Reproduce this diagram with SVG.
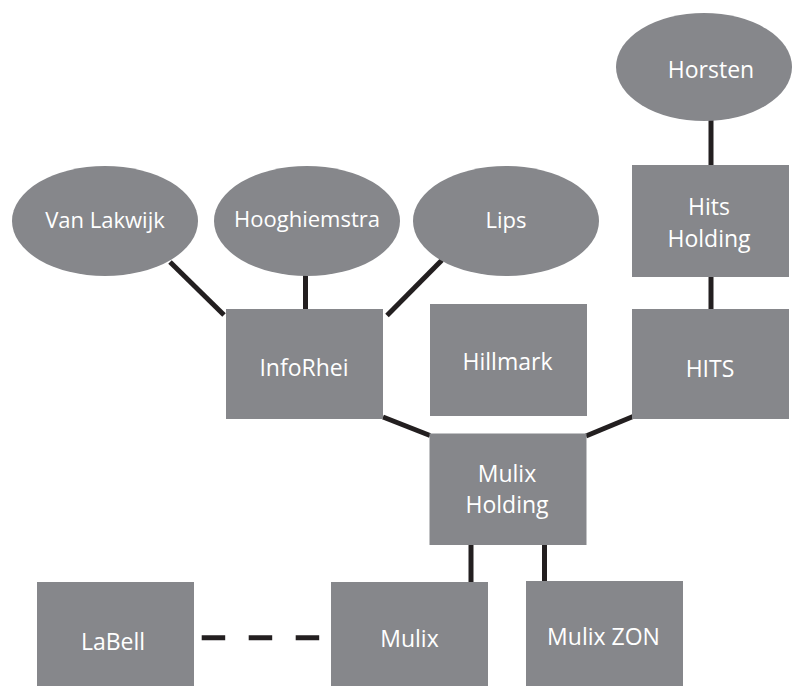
<svg xmlns="http://www.w3.org/2000/svg" width="792" height="686" viewBox="0 0 792 686">
<style>
.n{fill:#86878b}
.t{fill:#ffffff;font-family:"Open Sans","Noto Sans",sans-serif;font-size:23px;text-anchor:middle}
.te{font-size:22px}
.c{stroke:#231f20;stroke-width:5;fill:none}
.d{stroke-dasharray:23.5 23.5}
</style>
<rect width="792" height="686" fill="#ffffff"/>
<g id="connectors">
<line class="c" x1="170" y1="262" x2="224" y2="315"/>
<line class="c" x1="305.5" y1="274" x2="305.5" y2="310"/>
<line class="c" x1="442" y1="260" x2="387" y2="315.5"/>
<line class="c" x1="711" y1="119" x2="711" y2="166"/>
<line class="c" x1="711" y1="276" x2="711" y2="310"/>
<line class="c" x1="383" y1="417" x2="430" y2="435.5"/>
<line class="c" x1="633" y1="416.5" x2="586" y2="436"/>
<line class="c" x1="471" y1="544" x2="471" y2="583"/>
<line class="c" x1="544.5" y1="544" x2="544.5" y2="582"/>
<line class="c d" x1="201.7" y1="637.7" x2="320" y2="637.7"/>
</g>
<g id="horsten">
<ellipse class="n" cx="704" cy="67" rx="88" ry="54"/>
<text class="t" x="711" y="77.5">Horsten</text>
</g>
<g id="van-lakwijk">
<ellipse class="n" cx="105" cy="221" rx="93" ry="55"/>
<text class="t te" x="105" y="228">Van Lakwijk</text>
</g>
<g id="hooghiemstra">
<ellipse class="n" cx="307" cy="221" rx="93" ry="55"/>
<text class="t te" x="307" y="227">Hooghiemstra</text>
</g>
<g id="lips">
<ellipse class="n" cx="506" cy="221" rx="93" ry="55"/>
<text class="t te" x="506" y="227.5">Lips</text>
</g>
<g id="hits-holding">
<rect class="n" x="632" y="165" width="157" height="112"/>
<text class="t" x="709" y="215">Hits</text>
<text class="t" x="709" y="246.7">Holding</text>
</g>
<g id="inforhei">
<rect class="n" x="226" y="309" width="157" height="110"/>
<text class="t" x="304" y="375.7">InfoRhei</text>
</g>
<g id="hillmark">
<rect class="n" x="430" y="304" width="157" height="112"/>
<text class="t" x="507.5" y="370">Hillmark</text>
</g>
<g id="hits">
<rect class="n" x="632" y="309" width="157" height="110"/>
<text class="t" x="710" y="376.7">HITS</text>
</g>
<g id="mulix-holding">
<rect class="n" x="429.5" y="433.5" width="157" height="111.5"/>
<text class="t" x="507" y="481.7">Mulix</text>
<text class="t" x="507" y="513.3">Holding</text>
</g>
<g id="labell">
<rect class="n" x="37" y="582" width="157" height="111"/>
<text class="t" x="113" y="650">LaBell</text>
</g>
<g id="mulix">
<rect class="n" x="331" y="582" width="157" height="111"/>
<text class="t" x="409.5" y="646.7">Mulix</text>
</g>
<g id="mulix-zon">
<rect class="n" x="526" y="581" width="157" height="112"/>
<text class="t" x="603.5" y="645">Mulix ZON</text>
</g>
</svg>
